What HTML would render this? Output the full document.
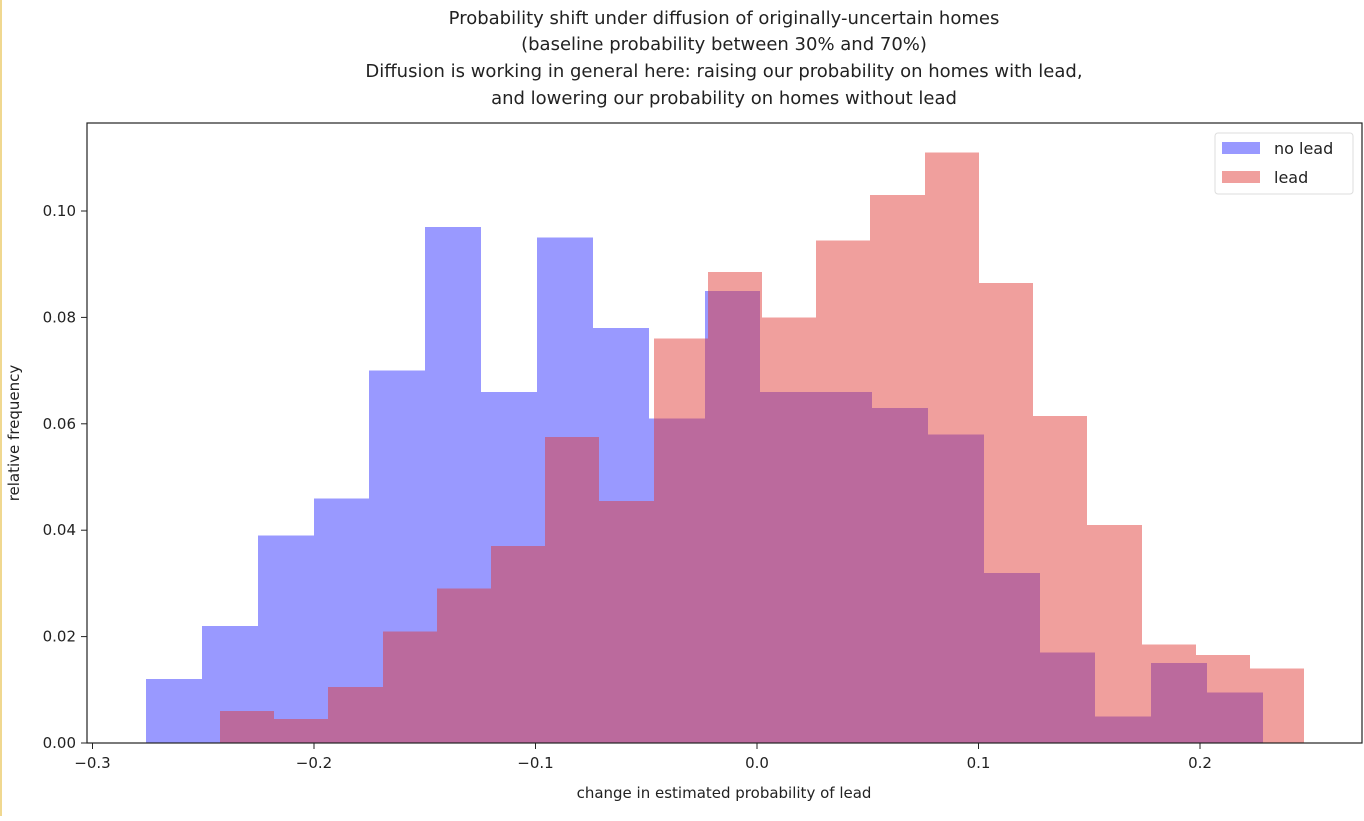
<!DOCTYPE html>
<html><head><meta charset="utf-8"><style>
body{margin:0;background:#fff;width:1364px;height:816px;overflow:hidden;font-family:"Liberation Sans","DejaVu Sans",sans-serif;}
</style></head><body>
<svg id="chart" width="1364" height="816" xmlns="http://www.w3.org/2000/svg" font-family="'DejaVu Sans','Liberation Sans',sans-serif">
<rect x="0" y="0" width="2" height="816" fill="#f0d890"/>
<g font-size="18" fill="#222" text-anchor="middle">
<text x="724" y="24">Probability shift under diffusion of originally-uncertain homes</text>
<text x="724" y="50">(baseline probability between 30% and 70%)</text>
<text x="724" y="77">Diffusion is working in general here: raising our probability on homes with lead,</text>
<text x="724" y="104">and lowering our probability on homes without lead</text>
</g>
<g id="bars" shape-rendering="crispEdges"></g>
<rect x="87" y="123" width="1275" height="620" fill="none" stroke="#222" stroke-width="1.2"/>
<g id="xticks" font-size="15" fill="#222" text-anchor="middle"></g>
<g id="yticks" font-size="15" fill="#222" text-anchor="end"></g>
<text x="724" y="798" font-size="15" fill="#222" text-anchor="middle">change in estimated probability of lead</text>
<text transform="translate(19,433) rotate(-90)" font-size="15" fill="#222" text-anchor="middle">relative frequency</text>
<g>
<rect x="1215" y="133" width="138" height="61" rx="3" fill="#fff" stroke="#ddd"/>
<rect x="1222" y="142" width="38" height="12" fill="rgba(0,0,255,0.4)"/>
<text x="1274" y="154" font-size="16" fill="#222">no lead</text>
<rect x="1222" y="171" width="38" height="12" fill="rgba(224,55,50,0.48)"/>
<text x="1274" y="183" font-size="16" fill="#222">lead</text>
</g>
</svg>
<script>
const noLeadStart = -0.2758, noLeadEnd = 0.2284;
const noLeadValues = [0.012,0.022,0.039,0.046,0.070,0.097,0.066,0.095,0.078,0.061,0.085,0.066,0.066,0.063,0.058,0.032,0.017,0.005,0.015,0.0095];
const leadStart = -0.2424, leadEnd = 0.2470;
const leadValues = [0.006,0.0045,0.0105,0.021,0.029,0.037,0.0575,0.0455,0.076,0.0885,0.080,0.0945,0.103,0.111,0.0865,0.0615,0.041,0.0185,0.0165,0.014];
const xTickValues = [-0.3,-0.2,-0.1,0.0,0.1,0.2];
const xTickLabels = ["\u22120.3","\u22120.2","\u22120.1","0.0","0.1","0.2"];
const yTickValues = [0,0.02,0.04,0.06,0.08,0.10];
const yTickLabels = ["0.00","0.02","0.04","0.06","0.08","0.10"];

const NS="http://www.w3.org/2000/svg";
const X=v=>757+v*2215;
const Y=v=>743-v*5320;
function drawHist(start,end,vals,fill,name){
  const g=document.getElementById('bars');
  const w=(end-start)/vals.length;
  vals.forEach((v,i)=>{
    const r=document.createElementNS(NS,'rect');
    const x0=Math.round(X(start+i*w)),x1=Math.round(X(start+(i+1)*w));
    r.setAttribute('x',x0);r.setAttribute('width',x1-x0);
    r.setAttribute('y',Y(v));r.setAttribute('height',Y(0)-Y(v));
    r.setAttribute('fill',fill);
    
    
    g.appendChild(r);
  });
}
drawHist(noLeadStart,noLeadEnd,noLeadValues,'rgba(0,0,255,0.4)','no-lead');
drawHist(leadStart,leadEnd,leadValues,'rgba(224,55,50,0.48)','lead');
const xg=document.getElementById('xticks');
xTickValues.forEach((v,i)=>{
  const l=document.createElementNS(NS,'line');
  l.setAttribute('x1',X(v));l.setAttribute('x2',X(v));l.setAttribute('y1',743);l.setAttribute('y2',749);l.setAttribute('stroke','#222');
  
  
  xg.appendChild(l);
  const t=document.createElementNS(NS,'text');
  t.setAttribute('x',X(v));t.setAttribute('y',768);t.textContent=xTickLabels[i];
  
  
  xg.appendChild(t);
});
const yg=document.getElementById('yticks');
yTickValues.forEach((v,i)=>{
  const l=document.createElementNS(NS,'line');
  l.setAttribute('x1',81);l.setAttribute('x2',87);l.setAttribute('y1',Y(v));l.setAttribute('y2',Y(v));l.setAttribute('stroke','#222');
  
  
  yg.appendChild(l);
  const t=document.createElementNS(NS,'text');
  t.setAttribute('x',76);t.setAttribute('y',Y(v)+5);t.textContent=yTickLabels[i];
  
  
  yg.appendChild(t);
});
</script>
</body></html>
